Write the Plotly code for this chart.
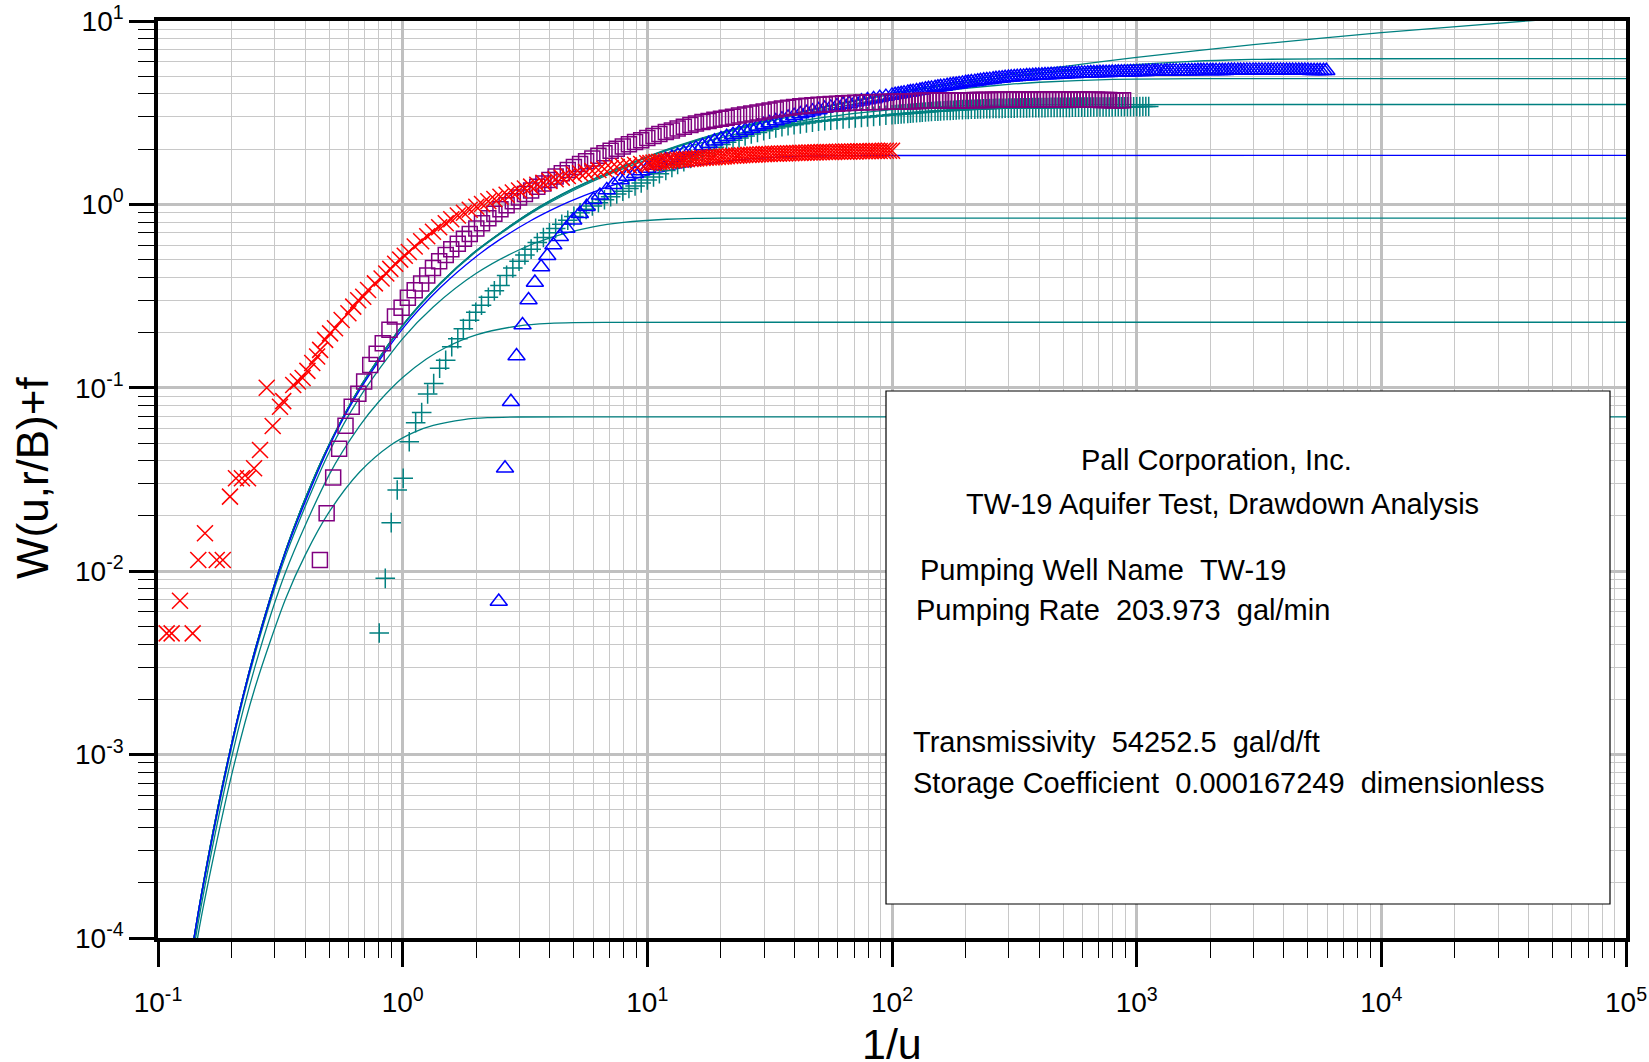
import plotly.graph_objects as go

# ---------------- Type curves (1/u, W(u,r/B)) ----------------
theis_x = [0.13, 0.15, 0.175, 0.2, 0.25, 0.333, 0.4, 0.5, 0.667, 1, 1.43, 2, 3.33, 5, 10, 20, 50, 100, 300, 1000, 3000, 1e4, 4e4, 1e5]
theis_y = [5.34e-5, 1.69e-4, 5.02e-4, 1.148e-3, 3.779e-3, 1.305e-2, 2.491e-2, 4.89e-2, 0.1, 0.2194, 0.3738, 0.5598, 0.9057, 1.2227, 1.8229, 2.4679, 3.3547, 4.0379, 5.13, 6.3316, 7.429, 8.6332, 10.02, 10.94]

rb005_x = [0.13, 0.15, 0.175, 0.2, 0.25, 0.333, 0.4, 0.5, 0.667, 1, 1.43, 2, 3.33, 5, 10, 20, 30, 40, 53.3, 80, 120, 160, 320, 500, 800, 1600, 2400, 3200, 8000, 1e5]
rb005_y = [5.34e-5, 1.69e-4, 5.02e-4, 1.148e-3, 3.779e-3, 1.305e-2, 2.49e-2, 4.89e-2, 0.1, 0.2194, 0.3737, 0.5597, 0.9054, 1.2218, 1.8184, 2.4576, 2.841, 3.114, 3.387, 3.771, 4.148, 4.410, 5.008, 5.355, 5.669, 6.009, 6.128, 6.180, 6.227, 6.2285]

rb01_x = [0.13, 0.15, 0.175, 0.2, 0.25, 0.333, 0.4, 0.5, 0.667, 1, 1.43, 2, 3.33, 5, 10, 15, 20, 26.7, 40, 60, 100, 150, 200, 300, 400, 800, 2000, 1e5]
rb01_y = [5.34e-5, 1.69e-4, 5.02e-4, 1.147e-3, 3.776e-3, 1.304e-2, 2.488e-2, 4.885e-2, 0.0999, 0.219, 0.3728, 0.5582, 0.9018, 1.2155, 1.8049, 2.1672, 2.4271, 2.6869, 3.0492, 3.400, 3.815, 4.111, 4.296, 4.514, 4.635, 4.805, 4.853, 4.854]

rb02_x = [0.13, 0.15, 0.175, 0.2, 0.25, 0.333, 0.4, 0.5, 0.667, 1, 1.43, 2, 3.33, 5, 7, 10, 14.29, 20, 30, 50, 100, 200, 500, 1e5]
rb02_y = [5.33e-5, 1.688e-4, 5.01e-4, 1.146e-3, 3.772e-3, 1.302e-2, 2.484e-2, 4.871e-2, 0.0995, 0.2179, 0.3704, 0.5533, 0.8902, 1.1944, 1.462, 1.7527, 2.0434, 2.311, 2.615, 2.952, 3.2875, 3.4567, 3.504, 3.5054]

rb05_x = [0.13, 0.15, 0.2, 0.25, 0.333, 0.5, 0.667, 1, 1.43, 2, 2.5, 3.333, 4, 4.8, 6.4, 8, 11.2, 16, 24, 32, 48, 64, 80, 1e5]
rb05_y = [5.30e-5, 1.68e-4, 1.136e-3, 3.729e-3, 1.283e-2, 4.774e-2, 0.09702, 0.2103, 0.35345, 0.52065, 0.6446, 0.8142, 0.9244, 1.0346, 1.2042, 1.3282, 1.4954, 1.6385, 1.7518, 1.8011, 1.836, 1.8451, 1.8477, 1.8488]

rb1_x = [0.13, 0.15, 0.2, 0.25, 0.333, 0.5, 0.667, 1, 1.333, 2, 3, 4, 6, 8, 12, 16, 20, 1e5]
rb1_y = [5.1e-5, 1.635e-4, 1.098e-3, 3.585e-3, 1.2194e-2, 4.443e-2, 0.08859, 0.18547, 0.27604, 0.421, 0.566, 0.6565, 0.7534, 0.7976, 0.8298, 0.8384, 0.8409, 0.842]

rb2_x = [0.13, 0.15, 0.2, 0.25, 0.333, 0.5, 0.667, 0.8, 1, 1.25, 1.5, 2, 3, 4, 5, 6.67, 1e5]
rb2_y = [4.7e-5, 1.485e-4, 9.66e-4, 3.065e-3, 9.952e-3, 3.3426e-2, 6.191e-2, 8.4165e-2, 0.11389, 0.14363, 0.16588, 0.19436, 0.21784, 0.22473, 0.22682, 0.22764, 0.22779]

rb3_x = [0.13, 0.15, 0.2, 0.25, 0.333, 0.4, 0.5, 0.667, 0.889, 1.111, 1.333, 1.778, 2.222, 3, 5, 1e5]
rb3_y = [4.06e-5, 1.279e-4, 7.75e-4, 2.352e-3, 7.119e-3, 1.2279e-2, 2.098e-2, 3.474e-2, 4.85e-2, 5.72e-2, 6.236e-2, 6.712e-2, 6.87e-2, 6.932e-2, 6.947e-2, 6.9475e-2]

# ---------------- Observation data (1/u, W(u,r/B)+f) ----------------
red_t = [0.1085, 0.1137, 0.123, 0.1386, 0.1461, 0.1556, 0.1738, 0.184, 0.1969, 0.2083, 0.2203, 0.2333, 0.247, 0.2612, 0.2782, 0.2943, 0.3153, 0.325,
         0.357, 0.373, 0.39, 0.408, 0.427, 0.447, 0.46, 0.482, 0.505, 0.529, 0.563, 0.6, 0.628, 0.658, 0.69, 0.722, 0.77, 0.82, 0.857, 0.89, 0.932, 0.977, 1.02,
         1.06, 1.12, 1.19, 1.26, 1.33, 1.41, 1.50, 1.58, 1.68, 1.78, 1.88, 2.00, 2.11, 2.24, 2.37, 2.51, 2.66, 2.82, 2.99, 3.16,
         3.35, 3.55, 3.76, 3.98, 4.22, 4.47, 4.73, 5.01, 5.31, 5.62, 5.96, 6.31, 6.68, 7.08, 7.50, 7.94, 8.41, 8.91, 9.44, 10.0,
         10.6, 11.2, 11.9, 12.6, 13.3, 14.1, 15.0, 15.8, 16.8, 17.8, 18.8, 20.0, 21.1, 22.4, 23.7, 25.1, 26.6, 28.2, 29.9, 31.6,
         33.5, 35.5, 37.6, 39.8, 42.2, 44.7, 47.3, 50.1, 53.1, 56.2, 59.6, 63.1, 66.8, 70.8, 75.0, 79.4, 84.1, 89.1, 94.4, 100,
         10.3, 10.9, 11.5, 12.2, 12.9, 13.7, 14.5, 15.4, 16.3, 17.3, 18.3, 19.4, 20.5, 21.8, 23.1, 24.4, 25.9, 27.4, 29.0, 30.7,
         32.6, 34.5, 36.5, 38.7, 41.0, 43.4, 46.0, 48.7, 51.6, 54.7, 57.9, 61.3, 65.0, 68.8, 72.9, 77.2, 81.8, 86.6, 91.8, 97.2]
red_w = [0.00458, 0.00458, 0.0069, 0.00458, 0.0115, 0.0161, 0.0115, 0.0115, 0.0255, 0.0321, 0.0321, 0.0321, 0.0364, 0.0458, 0.1, 0.0619, 0.0789, 0.0846,
         0.1035, 0.1083, 0.113, 0.1237, 0.1365, 0.148, 0.161, 0.1825, 0.198, 0.211, 0.234, 0.255, 0.277, 0.3, 0.314, 0.341, 0.371, 0.394, 0.42, 0.445, 0.475, 0.5, 0.525,
         0.55, 0.59, 0.63, 0.67, 0.71, 0.75, 0.79, 0.83, 0.87, 0.90, 0.935, 0.97, 1.005, 1.04, 1.07, 1.10, 1.13, 1.16, 1.19, 1.22,
         1.25, 1.28, 1.31, 1.34, 1.37, 1.40, 1.43, 1.46, 1.48, 1.50, 1.52, 1.54, 1.56, 1.58, 1.60, 1.615, 1.63, 1.645, 1.66, 1.675,
         1.69, 1.705, 1.72, 1.735, 1.75, 1.76, 1.77, 1.78, 1.79, 1.80, 1.81, 1.82, 1.83, 1.84, 1.85, 1.86, 1.865, 1.87, 1.88, 1.885,
         1.89, 1.895, 1.90, 1.905, 1.91, 1.915, 1.92, 1.925, 1.93, 1.93, 1.935, 1.94, 1.94, 1.945, 1.95, 1.95, 1.955, 1.955, 1.96, 1.96,
         1.68, 1.70, 1.71, 1.73, 1.74, 1.755, 1.765, 1.775, 1.785, 1.795, 1.805, 1.815, 1.825, 1.835, 1.845, 1.855, 1.862, 1.868, 1.875, 1.882,
         1.888, 1.892, 1.898, 1.902, 1.908, 1.912, 1.918, 1.922, 1.928, 1.93, 1.932, 1.938, 1.94, 1.942, 1.948, 1.95, 1.952, 1.955, 1.958, 1.96]

purple_t = [0.459, 0.489, 0.52, 0.55, 0.584, 0.619, 0.659, 0.696, 0.737, 0.783, 0.829, 0.883, 0.93, 0.99, 1.05, 1.12, 1.19,
            1.26, 1.33, 1.41, 1.50, 1.58, 1.68, 1.78, 1.88, 2.00, 2.11, 2.24, 2.37, 2.51, 2.66, 2.82, 2.99, 3.16, 3.35, 3.55, 3.76,
            3.98, 4.22, 4.47, 4.73, 5.01, 5.31, 5.62, 5.96, 6.31, 6.68, 7.08, 7.50, 7.94, 8.41, 8.91, 9.44,
            10.0, 10.6, 11.2, 11.9, 12.6, 13.3, 14.1, 15.0, 15.8, 16.8, 17.8, 18.8, 20.0, 21.1, 22.4, 23.7, 25.1, 26.6, 28.2, 29.9,
            31.6, 33.5, 35.5, 37.6, 39.8, 42.2, 44.7, 47.3, 50.1, 53.1, 56.2, 59.6, 63.1, 66.8, 70.8, 75.0, 79.4, 84.1, 89.1, 94.4,
            100, 106, 112, 119, 126, 133, 141, 150, 158, 168, 178, 188, 200, 211, 224, 237, 251, 266, 282, 299,
            316, 335, 355, 376, 398, 422, 447, 473, 501, 531, 562, 596, 631, 668, 708, 750, 794, 841, 880,
            103, 109, 116, 122, 130, 137, 145, 154, 163, 173, 183, 194, 205, 218, 230, 244, 259, 274, 290, 307,
            325, 345, 365, 387, 410, 434, 460, 487, 516, 546, 579, 613, 649, 688, 729, 772, 818, 860]
purple_w = [0.0115, 0.0207, 0.0324, 0.0465, 0.0621, 0.0789, 0.0927, 0.1083, 0.1332, 0.1535, 0.1747, 0.207, 0.2446, 0.2729, 0.3093, 0.34, 0.37,
            0.41, 0.45, 0.49, 0.53, 0.57, 0.61, 0.65, 0.69, 0.74, 0.79, 0.84, 0.89, 0.94, 0.99, 1.04, 1.09, 1.14, 1.19, 1.25, 1.30,
            1.36, 1.42, 1.48, 1.54, 1.60, 1.66, 1.72, 1.78, 1.84, 1.90, 1.96, 2.01, 2.07, 2.13, 2.19, 2.24,
            2.30, 2.36, 2.42, 2.48, 2.53, 2.59, 2.65, 2.71, 2.76, 2.81, 2.85, 2.89, 2.93, 2.97, 3.01, 3.05, 3.09, 3.13, 3.17, 3.21,
            3.25, 3.29, 3.33, 3.37, 3.40, 3.43, 3.45, 3.47, 3.49, 3.51, 3.53, 3.54, 3.56, 3.57, 3.58, 3.59, 3.60, 3.61, 3.62, 3.63,
            3.63, 3.64, 3.65, 3.65, 3.66, 3.67, 3.67, 3.68, 3.68, 3.69, 3.69, 3.70, 3.70, 3.70, 3.71, 3.71, 3.71, 3.72, 3.72, 3.72,
            3.73, 3.73, 3.73, 3.74, 3.74, 3.74, 3.74, 3.74, 3.74, 3.74, 3.73, 3.73, 3.72, 3.72, 3.71, 3.71, 3.70, 3.70, 3.70,
            3.63, 3.64, 3.65, 3.655, 3.66, 3.67, 3.67, 3.675, 3.68, 3.69, 3.69, 3.695, 3.70, 3.705, 3.71, 3.71, 3.715, 3.72, 3.72, 3.725,
            3.73, 3.73, 3.735, 3.74, 3.74, 3.74, 3.74, 3.74, 3.74, 3.735, 3.73, 3.725, 3.72, 3.715, 3.71, 3.705, 3.70, 3.70]

teal_t = [0.802, 0.849, 0.898, 0.95, 1.005, 1.064, 1.13, 1.196, 1.265, 1.339, 1.416, 1.499, 1.587, 1.68, 1.77, 1.876, 1.99, 2.1, 2.24, 2.37, 2.5, 2.66,
          2.82, 2.99, 3.16, 3.35, 3.55, 3.76, 3.98, 4.22, 4.47, 4.73, 5.01, 5.31, 5.62, 5.96, 6.31, 6.68, 7.08, 7.50, 7.94, 8.41, 8.91, 9.44,
          10.0, 10.6, 11.2, 11.9, 12.6, 13.3, 14.1, 15.0, 15.8, 16.8, 17.8, 18.8, 20.0, 21.1, 22.4, 23.7, 25.1, 26.6, 28.2, 29.9,
          31.6, 33.5, 35.5, 37.6, 39.8, 42.2, 44.7, 47.3, 50.1, 53.1, 56.2, 59.6, 63.1, 66.8, 70.8, 75.0, 79.4, 84.1, 89.1, 94.4,
          100, 106, 112, 119, 126, 133, 141, 150, 158, 168, 178, 188, 200, 211, 224, 237, 251, 266, 282, 299,
          316, 335, 355, 376, 398, 422, 447, 473, 501, 531, 562, 596, 631, 668, 708, 750, 794, 841, 891, 944, 1000, 1060, 1120,
          103, 109, 116, 122, 130, 137, 145, 154, 163, 173, 183, 194, 205, 218, 230, 244, 259, 274, 290, 307,
          325, 345, 365, 387, 410, 434, 460, 487, 516, 546, 579, 613, 649, 688, 729, 772, 818, 866, 917, 972, 1030, 1090]
teal_w = [0.0046, 0.00914, 0.0184, 0.0277, 0.0321, 0.0508, 0.0645, 0.0733, 0.0925, 0.1054, 0.1277, 0.1413, 0.1675, 0.185, 0.2102, 0.2335, 0.2583, 0.2817, 0.3115, 0.3377, 0.3613, 0.41,
          0.45, 0.49, 0.53, 0.57, 0.62, 0.66, 0.70, 0.74, 0.78, 0.82, 0.86, 0.90, 0.94, 0.98, 1.02, 1.06, 1.10, 1.14, 1.18, 1.22, 1.26, 1.31,
          1.36, 1.41, 1.47, 1.53, 1.59, 1.65, 1.71, 1.78, 1.85, 1.92, 1.99, 2.05, 2.12, 2.18, 2.24, 2.30, 2.36, 2.42, 2.47, 2.52,
          2.57, 2.61, 2.65, 2.69, 2.72, 2.75, 2.78, 2.81, 2.84, 2.86, 2.88, 2.90, 2.92, 2.94, 2.96, 2.98, 3.00, 3.02, 3.04, 3.06,
          3.08, 3.10, 3.12, 3.14, 3.16, 3.18, 3.20, 3.22, 3.23, 3.25, 3.26, 3.28, 3.29, 3.30, 3.31, 3.32, 3.33, 3.34, 3.34, 3.35,
          3.35, 3.36, 3.36, 3.37, 3.37, 3.37, 3.38, 3.38, 3.38, 3.38, 3.39, 3.39, 3.39, 3.40, 3.40, 3.40, 3.40, 3.41, 3.41, 3.41, 3.41, 3.42, 3.42,
          3.09, 3.11, 3.13, 3.15, 3.17, 3.19, 3.21, 3.225, 3.24, 3.255, 3.27, 3.285, 3.295, 3.305, 3.315, 3.325, 3.335, 3.34, 3.345, 3.35,
          3.355, 3.36, 3.365, 3.37, 3.37, 3.375, 3.38, 3.38, 3.38, 3.385, 3.39, 3.39, 3.395, 3.40, 3.40, 3.40, 3.405, 3.41, 3.41, 3.41, 3.415, 3.42]

blue_t = [2.47, 2.62, 2.77, 2.92, 3.09, 3.27, 3.47, 3.68, 3.9, 4.13, 4.39, 4.67, 4.98, 5.3, 5.65, 6.02, 6.4, 6.83, 7.28, 7.76, 8.27, 8.91, 9.44,
          10.0, 10.6, 11.2, 11.9, 12.6, 13.3, 14.1, 15.0, 15.8, 16.8, 17.8, 18.8, 20.0, 21.1, 22.4, 23.7, 25.1, 26.6, 28.2, 29.9,
          31.6, 33.5, 35.5, 37.6, 39.8, 42.2, 44.7, 47.3, 50.1, 53.1, 56.2, 59.6, 63.1, 66.8, 70.8, 75.0, 79.4, 84.1, 89.1, 94.4,
          100, 106, 112, 119, 126, 133, 141, 150, 158, 168, 178, 188, 200, 211, 224, 237, 251, 266, 282, 299,
          316, 335, 355, 376, 398, 422, 447, 473, 501, 531, 562, 596, 631, 668, 708, 750, 794, 841, 891, 944,
          1000, 1060, 1120, 1190, 1260, 1330, 1410, 1500, 1580, 1680, 1780, 1880, 2000, 2110, 2240, 2370, 2510, 2660, 2820, 2990,
          3160, 3350, 3550, 3760, 3980, 4220, 4470, 4730, 5010, 5310, 5620, 5960,
          103, 109, 116, 122, 130, 137, 145, 154, 163, 173, 183, 194, 205, 218, 230, 244, 259, 274, 290, 307,
          325, 345, 365, 387, 410, 434, 460, 487, 516, 546, 579, 613, 649, 688, 729, 772, 818, 866, 917, 972,
          1030, 1090, 1160, 1220, 1300, 1370, 1450, 1540, 1630, 1730, 1830, 1940, 2050, 2180, 2300, 2440, 2590, 2740, 2900, 3070,
          3250, 3450, 3650, 3870, 4100, 4340, 4600, 4870, 5160, 5470, 5800]
blue_w = [0.00683, 0.0364, 0.084, 0.149, 0.22, 0.301, 0.375, 0.456, 0.525, 0.6, 0.667, 0.74, 0.82, 0.89, 0.97, 1.06, 1.12, 1.2, 1.28, 1.36, 1.42, 1.47, 1.52,
          1.57, 1.63, 1.69, 1.75, 1.80, 1.85, 1.91, 1.97, 2.02, 2.08, 2.14, 2.21, 2.27, 2.34, 2.40, 2.46, 2.53, 2.59, 2.66, 2.72,
          2.78, 2.85, 2.91, 2.98, 3.04, 3.11, 3.16, 3.22, 3.27, 3.33, 3.38, 3.44, 3.49, 3.54, 3.60, 3.65, 3.71, 3.76, 3.82, 3.87,
          3.93, 3.99, 4.04, 4.10, 4.15, 4.21, 4.27, 4.32, 4.38, 4.43, 4.49, 4.54, 4.60, 4.65, 4.70, 4.75, 4.79, 4.84, 4.88, 4.92,
          4.95, 4.98, 5.01, 5.03, 5.05, 5.07, 5.09, 5.11, 5.13, 5.15, 5.16, 5.18, 5.19, 5.21, 5.22, 5.23, 5.24, 5.25, 5.26, 5.27,
          5.28, 5.29, 5.30, 5.31, 5.31, 5.32, 5.33, 5.33, 5.34, 5.34, 5.35, 5.35, 5.36, 5.36, 5.36, 5.37, 5.37, 5.37, 5.38, 5.38,
          5.38, 5.38, 5.38, 5.38, 5.38, 5.37, 5.37, 5.37, 5.37, 5.36, 5.36, 5.36,
          3.96, 4.01, 4.07, 4.12, 4.18, 4.24, 4.29, 4.35, 4.40, 4.46, 4.51, 4.57, 4.62, 4.67, 4.72, 4.77, 4.81, 4.86, 4.90, 4.93,
          4.96, 4.99, 5.02, 5.04, 5.06, 5.08, 5.10, 5.12, 5.14, 5.15, 5.17, 5.18, 5.20, 5.21, 5.22, 5.23, 5.24, 5.25, 5.26, 5.27,
          5.28, 5.29, 5.30, 5.31, 5.31, 5.32, 5.33, 5.33, 5.34, 5.34, 5.35, 5.35, 5.36, 5.36, 5.36, 5.37, 5.37, 5.37, 5.38, 5.38,
          5.38, 5.38, 5.38, 5.38, 5.37, 5.37, 5.37, 5.37, 5.36, 5.36, 5.36]

x_tick_vals = [0.1, 1, 10, 100, 1000, 10000, 100000]
x_tick_text = ["10<sup>-1</sup>", "10<sup>0</sup>", "10<sup>1</sup>", "10<sup>2</sup>", "10<sup>3</sup>", "10<sup>4</sup>", "10<sup>5</sup>"]
y_tick_vals = [1e-4, 1e-3, 1e-2, 1e-1, 1, 10]
y_tick_text = ["10<sup>-4</sup>", "10<sup>-3</sup>", "10<sup>-2</sup>", "10<sup>-1</sup>", "10<sup>0</sup>", "10<sup>1</sup>"]

info_lines = [
    ("Pall Corporation, Inc.", "center"),
    ("TW-19 Aquifer Test, Drawdown Analysis", "center"),
    ("Pumping Well Name\u00a0\u00a0TW-19", "left"),
    ("Pumping Rate\u00a0\u00a0203.973\u00a0\u00a0gal/min", "left"),
    ("Transmissivity\u00a0\u00a054252.5\u00a0\u00a0gal/d/ft", "left"),
    ("Storage Coefficient\u00a0\u00a00.000167249\u00a0\u00a0dimensionless", "left"),
]

# ---------------- figure ----------------
W_PX, H_PX = 1649, 1062
L, R, T, B = 158, 23, 21, 124
PW, PH = W_PX - L - R, H_PX - T - B


def px(x):
    return (x - L) / PW


def py(y):
    return 1 - (y - T) / PH


TEAL = "#008080"
BLUE = "#0000ff"

fig = go.Figure()

curves = [
    (theis_x, theis_y, TEAL), (rb005_x, rb005_y, TEAL), (rb01_x, rb01_y, TEAL),
    (rb02_x, rb02_y, TEAL), (rb1_x, rb1_y, TEAL), (rb2_x, rb2_y, TEAL),
    (rb3_x, rb3_y, TEAL), (rb05_x, rb05_y, BLUE),
]
for xs, ys, col in curves:
    fig.add_trace(go.Scatter(x=xs, y=ys, mode="lines",
                             line=dict(color=col, width=1.3, shape="spline", smoothing=0.8),
                             hoverinfo="skip", showlegend=False))

fig.add_trace(go.Scatter(x=teal_t, y=teal_w, mode="markers",
                         marker=dict(symbol="cross-thin-open", size=14, color=TEAL,
                                     line=dict(color=TEAL, width=1.5)), showlegend=False))
fig.add_trace(go.Scatter(x=blue_t, y=blue_w, mode="markers",
                         marker=dict(symbol="triangle-up-open", size=15, color=BLUE,
                                     line=dict(color=BLUE, width=1.5)), showlegend=False))
fig.add_trace(go.Scatter(x=purple_t, y=purple_w, mode="markers",
                         marker=dict(symbol="square-open", size=15, color="#800080",
                                     line=dict(color="#800080", width=1.5)), showlegend=False))
fig.add_trace(go.Scatter(x=red_t, y=red_w, mode="markers",
                         marker=dict(symbol="x-thin-open", size=16, color="#ff0000",
                                     line=dict(color="#ff0000", width=1.5)), showlegend=False))

TICKFONT = dict(family="Liberation Sans Narrow, Arial Narrow, Liberation Sans, Arial", size=28, color="black")
x_minor = [m * d for d in [0.1, 1, 10, 100, 1000, 10000] for m in range(2, 10)]
y_minor = [m * d for d in [1e-4, 1e-3, 1e-2, 1e-1, 1] for m in range(2, 10)]

axis_common = dict(
    type="log", tickmode="array", ticks="outside", ticklen=25, tickwidth=2.5, tickcolor="black",
    showline=True, linewidth=3.5, linecolor="black", mirror=True, automargin=False,
    showgrid=True, gridcolor="#c0c0c0", gridwidth=3, zeroline=False, tickfont=TICKFONT,
)
fig.update_xaxes(range=[-1, 5], tickvals=x_tick_vals, ticktext=x_tick_text, ticklabelstandoff=12,
                 minor=dict(tickvals=x_minor, ticks="outside", ticklen=16, tickwidth=1.2, tickcolor="black",
                            showgrid=True, gridcolor="#c8c8c8", gridwidth=1.2),
                 **axis_common)
fig.update_yaxes(range=[-4, 1], tickvals=y_tick_vals, ticktext=y_tick_text,
                 minor=dict(tickvals=y_minor, ticks="outside", ticklen=16, tickwidth=1.2, tickcolor="black",
                            showgrid=True, gridcolor="#c8c8c8", gridwidth=1.2),
                 **axis_common)

# info box
fig.add_shape(type="rect", xref="paper", yref="paper", x0=px(886), x1=px(1610), y0=py(904), y1=py(391),
              line=dict(color="black", width=1.2), fillcolor="white", layer="above")

TXT = dict(family="Liberation Sans, Arial", size=29, color="black")
info_pos = [(1216, 460), (1222, 504), (918, 570), (914, 610), (911, 742), (911, 783)]
for (txt, align), (xx, yy) in zip(info_lines, info_pos):
    fig.add_annotation(text=txt, xref="paper", yref="paper", x=px(xx), y=py(yy),
                       xanchor="center" if align == "center" else "left", yanchor="middle",
                       showarrow=False, font=TXT)

# axis titles
fig.add_annotation(text="1/u", xref="paper", yref="paper", x=px(892), y=py(1044),
                   xanchor="center", yanchor="middle", showarrow=False,
                   font=dict(family="Liberation Sans, Arial", size=43, color="black"))
fig.add_annotation(text="W(u,r/B)+f", xref="paper", yref="paper", x=px(32), y=py(478),
                   xanchor="center", yanchor="middle", textangle=-90, showarrow=False,
                   font=dict(family="Liberation Sans, Arial", size=44, color="black"))

fig.update_layout(width=W_PX, height=H_PX, margin=dict(l=L, r=R, t=T, b=B),
                  paper_bgcolor="white", plot_bgcolor="white", showlegend=False)

fig.write_html("out.html")
